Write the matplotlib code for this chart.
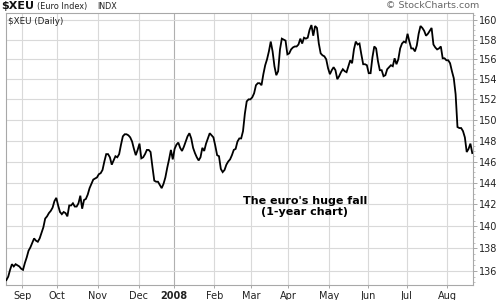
import matplotlib
matplotlib.use("Agg")
import matplotlib.pyplot as plt
from matplotlib.ticker import FixedLocator, NullFormatter, FixedFormatter

# Daily closes of $XEU (Euro Index), one value per trading day (Aug 2007 - Aug 2008)
values = [
    135.2, 135.5, 136.1, 136.6, 136.4, 136.6, 136.5, 136.4, 136.2, 136.1,
    136.7, 137.2, 137.8, 138.1, 138.5, 138.9, 138.7, 138.6, 138.9, 139.4,
    139.9, 140.7, 140.9, 141.2, 141.4, 141.7, 142.3, 142.6, 141.9, 141.3,
    141.1, 141.3, 141.2, 140.9, 141.9, 141.9, 142.1, 141.8, 141.8, 142.1,
    142.8, 141.6, 142.4, 142.5, 142.9, 143.5, 143.9, 144.3, 144.4, 144.5,
    144.8, 144.9, 145.2, 146.0, 146.7, 146.7, 146.4, 145.7, 146.1, 146.5,
    146.4, 146.7, 147.6, 148.4, 148.6, 148.6, 148.5, 148.3, 147.9, 147.2,
    146.6, 147.1, 147.7, 146.3, 146.4, 146.7, 147.1, 147.1, 146.9, 145.5,
    144.2, 144.1, 144.1, 143.8, 143.5, 143.9, 144.5, 145.4, 146.2, 147.1,
    146.2, 147.2, 147.6, 147.8, 147.3, 147.0, 147.4, 147.9, 148.4, 148.7,
    148.2, 147.3, 146.8, 146.4, 146.1, 146.4, 147.3, 147.0, 147.7, 148.2,
    148.7, 148.5, 148.3, 147.5, 146.6, 146.5, 145.3, 145.0, 145.2, 145.7,
    146.0, 146.2, 146.6, 147.1, 147.2, 147.9, 148.2, 148.2, 148.9, 150.6,
    151.8, 152.0, 152.0, 152.2, 152.6, 153.4, 153.6, 153.6, 153.4, 154.5,
    155.4, 156.0, 156.8, 157.8, 156.8, 155.3, 154.4, 154.8, 157.0, 158.1,
    158.0, 157.9, 156.5, 156.6, 157.0, 157.2, 157.3, 157.3, 157.5, 158.1,
    157.6, 158.2, 158.1, 158.2, 159.0, 159.5, 158.4, 159.4, 159.2, 157.6,
    156.6, 156.4, 156.3, 156.0, 155.1, 154.5, 154.9, 155.2, 154.9, 154.0,
    154.3, 154.7, 155.0, 154.8, 154.7, 155.3, 155.9, 155.6, 157.0, 157.8,
    157.5, 157.6, 156.5, 155.5, 155.5, 155.4, 154.6, 154.6, 156.2, 157.3,
    157.1, 155.8, 154.9, 154.9, 154.3, 154.4, 155.0, 155.2, 155.4, 155.3,
    156.1, 155.5, 156.0, 157.1, 157.6, 157.8, 157.7, 158.6, 157.8, 157.1,
    157.1, 156.8, 157.4, 158.6, 159.4, 159.2, 158.9, 158.4, 158.6, 158.9,
    159.2, 157.5, 157.2, 157.0, 157.1, 157.3, 156.1, 156.1, 155.9, 155.9,
    155.6, 154.8, 154.1, 152.5, 149.3, 149.2, 149.2, 148.9, 148.3, 146.9,
    147.2, 147.7, 146.8,
]

# Month labels and the index of the first trading day of each month
month_labels = ["Sep", "Oct", "Nov", "Dec", "2008", "Feb", "Mar", "Apr",
                "May", "Jun", "Jul", "Aug"]
month_start_idx = [9, 28, 50, 72, 91, 113, 133, 153, 175, 196, 217, 239]

y_ticks = [136, 138, 140, 142, 144, 146, 148, 150, 152, 154, 156, 158, 160]

fig = plt.figure(figsize=(5, 3), dpi=100)
ax = fig.add_axes([6 / 500, 15 / 300, 467 / 500, 272 / 300])

x = list(range(len(values)))
ax.plot(x, values, color="black", lw=1.3, solid_joinstyle="miter", zorder=3)

ax.set_yscale("log")
ax.set_ylim(134.77, 160.75)
ax.set_xlim(-0.2, len(values) - 1 + 0.4)

ax.yaxis.set_major_locator(FixedLocator(y_ticks))
ax.yaxis.set_major_formatter(FixedFormatter([str(t) for t in y_ticks]))
minor = [v / 2 for v in range(270, 322) if v % 4 != 0]
ax.yaxis.set_minor_locator(FixedLocator(minor))
ax.yaxis.set_minor_formatter(NullFormatter())
ax.yaxis.tick_right()
ax.tick_params(axis="y", which="major", length=3, width=0.6, color="#999999",
               labelsize=7, labelcolor="#222222", pad=1)
ax.tick_params(axis="y", which="minor", length=1.5, width=0.5, color="#aaaaaa")

grid_x = [i - 0.5 for i in month_start_idx]
ax.xaxis.set_major_locator(FixedLocator(grid_x))
ax.xaxis.set_major_formatter(FixedFormatter(month_labels))
ax.xaxis.set_minor_locator(FixedLocator([]))
ax.tick_params(axis="x", which="major", length=2, width=0.6, color="#999999",
               labelsize=7, labelcolor="#222222", pad=2)
for lbl in ax.get_xticklabels():
    if lbl.get_text() == "2008":
        lbl.set_fontweight("bold")

ax.grid(True, which="major", axis="both", color="#d9d9d9", lw=0.8, zorder=0)
for gl, lab in zip(ax.get_xgridlines(), month_labels):
    if lab == "2008":
        gl.set_color("#b0b0b0")

for s in ax.spines.values():
    s.set_color("#a8a8a8")
    s.set_linewidth(0.8)

# Header texts
fig.text(0.002, 0.98, "$XEU", fontsize=8, fontweight="bold", va="center",
         ha="left", color="#111111")
fig.text(0.074, 0.978, "(Euro Index)", fontsize=5.9, va="center", ha="left",
         color="#222222")
fig.text(0.194, 0.978, "INDX", fontsize=5.8, va="center", ha="left",
         color="#222222")
fig.text(0.958, 0.98, "\u00a9 StockCharts.com", fontsize=6.8, va="center",
         ha="right", color="#666666")
ax.text(0.005, 0.985, "$XEU (Daily)", transform=ax.transAxes, fontsize=6.3,
        va="top", ha="left", color="#222222")

ax.text(0.64, 0.29, "The euro's huge fall\n(1-year chart)",
        transform=ax.transAxes, fontsize=8, fontweight="bold", ha="center",
        va="center", linespacing=1.15, color="black")

fig.savefig("out.png", dpi=100)
